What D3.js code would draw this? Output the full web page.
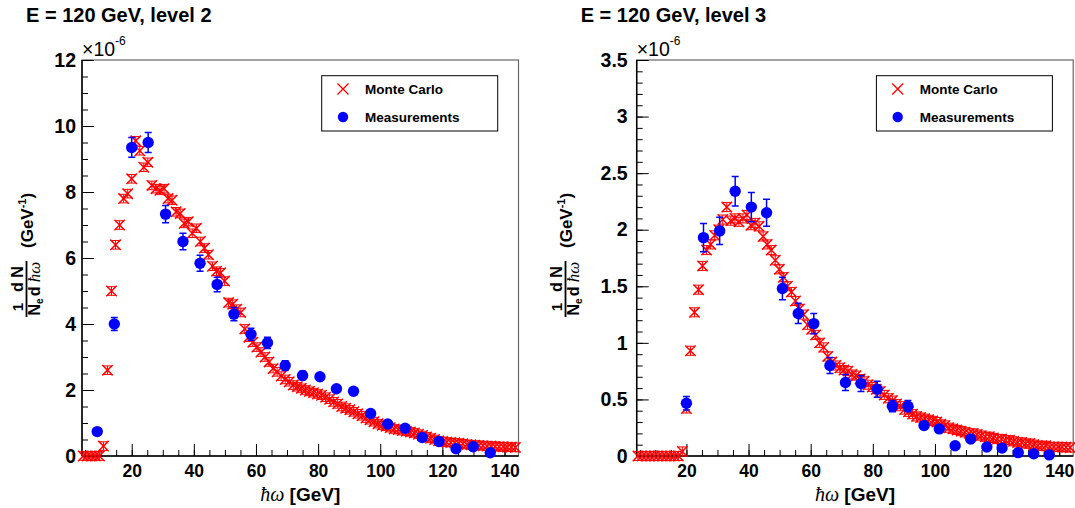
<!DOCTYPE html>
<html>
<head>
<meta charset="utf-8">
<script src="https://cdn.jsdelivr.net/npm/d3@7"></script>
<style>
body { margin: 0; background: #fff; }
text { font-family: "Liberation Sans", Arial, sans-serif; }
</style>
</head>
<body>
<div class="container"></div>
<script>
const W = 1075;
const H = 508;

// panel titles and legend
const titles = ['E = 120 GeV, level 2', 'E = 120 GeV, level 3'];
const legendLabels = ['Monte Carlo', 'Measurements'];

// axis ticks
const xTicks = [20, 40, 60, 80, 100, 120, 140];
const yTicks2 = [0, 2, 4, 6, 8, 10, 12];
const yTicks3 = [0, 0.5, 1, 1.5, 2, 2.5, 3, 3.5];

// Monte Carlo bin centres (GeV), shared by both levels
const mcX = [4.4, 5.7, 7.0, 8.3, 9.6, 10.9, 12.2, 13.5, 14.8, 16.1,
    17.4, 18.7, 20.0, 21.3, 22.6, 23.9, 25.2, 26.5, 27.8, 29.1,
    30.4, 31.7, 33.0, 34.3, 35.6, 36.9, 38.2, 39.5, 40.8, 42.1,
    43.4, 44.7, 46.0, 47.3, 48.6, 49.9, 51.2, 52.5, 53.8, 55.1,
    56.4, 57.7, 59.0, 60.3, 61.6, 62.9, 64.2, 65.5, 66.8, 68.1,
    69.4, 70.7, 72.0, 73.3, 74.6, 75.9, 77.2, 78.5, 79.8, 81.1,
    82.4, 83.7, 85.0, 86.3, 87.6, 88.9, 90.2, 91.5, 92.8, 94.1,
    95.4, 96.7, 98.0, 99.3, 100.6, 101.9, 103.2, 104.5, 105.8, 107.1,
    108.4, 109.7, 111.0, 112.3, 113.6, 114.9, 116.2, 117.5, 118.8, 120.1,
    121.4, 122.7, 124.0, 125.3, 126.6, 127.9, 129.2, 130.5, 131.8, 133.1,
    134.4, 135.7, 137.0, 138.3, 139.6, 140.9, 142.2, 143.5];

// Monte Carlo, level 2 (x1e-6 per GeV)
const mcLevel2 = [0, 0, 0, 0, 0, 0.3, 2.6, 5.0, 6.4, 7.0,
    7.8, 7.95, 8.4, 9.55, 9.25, 8.75, 8.9, 8.2, 8.1, 8.05,
    8.1, 7.8, 7.75, 7.4, 7.35, 7.05, 7.1, 6.75, 6.9, 6.5,
    6.3, 6.1, 5.75, 5.6, 5.55, 5.3, 4.65, 4.6, 4.45, 4.35,
    3.85, 3.6, 3.45, 3.3, 3.15, 3.0, 2.85, 2.65, 2.55, 2.42,
    2.32, 2.25, 2.15, 2.1, 2.05, 2.0, 1.96, 1.92, 1.88, 1.84,
    1.78, 1.72, 1.64, 1.58, 1.5, 1.45, 1.4, 1.34, 1.28, 1.22,
    1.15, 1.1, 1.04, 0.98, 0.93, 0.9, 0.86, 0.82, 0.8, 0.77,
    0.75, 0.73, 0.7, 0.66, 0.62, 0.58, 0.54, 0.5, 0.46, 0.44,
    0.42, 0.41, 0.4, 0.39, 0.37, 0.35, 0.34, 0.33, 0.32, 0.31,
    0.3, 0.3, 0.29, 0.28, 0.28, 0.27, 0.27, 0.26];

// Monte Carlo, level 3
const mcLevel3 = [0, 0, 0, 0, 0, 0, 0, 0, 0, 0,
    0, 0.04, 0.42, 0.93, 1.27, 1.47, 1.68, 1.82, 1.87, 1.95,
    2.0, 2.09, 2.2, 2.08, 2.1, 2.07, 2.1, 2.13, 2.04, 2.06,
    2.03, 1.94, 1.87, 1.82, 1.73, 1.65, 1.58, 1.5, 1.45, 1.37,
    1.3, 1.25, 1.16, 1.12, 1.07, 1.0, 0.96, 0.88, 0.83, 0.8,
    0.78, 0.76, 0.75, 0.72, 0.71, 0.68, 0.66, 0.63, 0.61, 0.59,
    0.57, 0.54, 0.51, 0.49, 0.46, 0.44, 0.41, 0.39, 0.37, 0.35,
    0.34, 0.33, 0.32, 0.31, 0.3, 0.28, 0.27, 0.25, 0.24, 0.23,
    0.22, 0.21, 0.2, 0.2, 0.19, 0.18, 0.17, 0.17, 0.16, 0.15,
    0.15, 0.14, 0.14, 0.13, 0.12, 0.12, 0.11, 0.11, 0.1, 0.09,
    0.09, 0.09, 0.08, 0.08, 0.08, 0.08, 0.077, 0.075];

// small MC statistical errors
const mcErr2 = 0.13;
const mcErr3 = 0.04;

// measurements, level 2
const measX2 = [8.9, 14.4, 20.0, 25.3, 30.9, 36.5, 42.0, 47.5, 52.9, 58.4, 63.7, 69.4,
    75.0, 80.6, 85.9, 91.4, 96.9, 102.4, 108.0, 113.5, 118.9, 124.4, 129.9, 135.4];
const meas2 = [0.74, 4.0, 9.35, 9.5, 7.33, 6.5, 5.84, 5.2, 4.3, 3.69, 3.43, 2.74,
    2.44, 2.40, 2.04, 1.96, 1.29, 0.97, 0.84, 0.56, 0.44, 0.22, 0.28, 0.10];
const measErr2 = [0.05, 0.2, 0.3, 0.3, 0.26, 0.25, 0.24, 0.22, 0.2, 0.18, 0.17, 0.15,
    0.13, 0.1, 0.08, 0.07, 0.06, 0.05, 0.05, 0.04, 0.04, 0.03, 0.03, 0.03];

// measurements, level 3
const measX3 = [20.0, 25.5, 30.7, 35.7, 40.9, 45.8, 50.9, 56.0, 61.0, 66.2, 71.2, 76.2,
    81.4, 86.3, 91.3, 96.5, 101.4, 106.5, 111.5, 116.7, 121.6, 126.8, 131.8, 136.8];
const meas3 = [0.466, 1.93, 1.99, 2.34, 2.20, 2.15, 1.48, 1.26, 1.17, 0.80, 0.65, 0.64,
    0.59, 0.44, 0.44, 0.27, 0.24, 0.09, 0.15, 0.08, 0.07, 0.03, 0.02, 0.01];
const measErr3 = [0.06, 0.125, 0.12, 0.13, 0.13, 0.12, 0.1, 0.09, 0.09, 0.07, 0.07, 0.07,
    0.07, 0.05, 0.05, 0.03, 0.03, 0.02, 0.02, 0.02, 0.02, 0.02, 0.02, 0.02];

const xDomain = [4, 144.5];
const plotW = 436.5;
const plotTop = 60;
const plotBottom = 456;

const panels = [
    {title: titles[0], left: 82, yMax: 12, yTicks: yTicks2, yMinorStep: 0.5,
        mc: mcLevel2, mcErr: mcErr2, mx: measX2, my: meas2, me: measErr2, labelPad: 6, yTitleX: 25},
    {title: titles[1], left: 636.7, yMax: 3.5, yTicks: yTicks3, yMinorStep: 0.1,
        mc: mcLevel3, mcErr: mcErr3, mx: measX3, my: meas3, me: measErr3, labelPad: 9, yTitleX: 564},
];

const svg = d3.select('.container')
    .append('svg')
    .attr('width', W)
    .attr('height', H);

svg.append('rect').attr('width', W).attr('height', H).attr('fill', '#fff');

const crossPath = s => `M${-s},${-s}L${s},${s}M${-s},${s}L${s},${-s}`;

function styleAxis(g, size) {
    g.select('.domain').remove();
    g.selectAll('line').attr('stroke', '#000').attr('stroke-width', 1);
    g.selectAll('text')
        .attr('fill', '#000')
        .attr('font-family', '"Liberation Sans", Arial, sans-serif')
        .attr('font-weight', 'bold')
        .attr('font-size', size);
}

function drawYTitle(cx, cy) {
    const t = svg.append('g')
        .attr('transform', `translate(${cx},${cy}) rotate(-90)`)
        .attr('font-weight', 'bold')
        .attr('fill', '#000');

    // 1 / N_e
    t.append('text').attr('x', -49).attr('y', -2).attr('text-anchor', 'middle')
        .attr('font-size', 15).text('1');
    t.append('line').attr('x1', -59).attr('x2', -39).attr('y1', 1.5).attr('y2', 1.5)
        .attr('stroke', '#000').attr('stroke-width', 1.8);
    const den1 = t.append('text').attr('x', -49).attr('y', 14.5).attr('text-anchor', 'middle')
        .attr('font-size', 16);
    den1.append('tspan').text('N');
    den1.append('tspan').attr('font-size', 10).attr('dy', 3).text('e');

    // dN / dħω
    t.append('text').attr('x', -21).attr('y', -2).attr('text-anchor', 'middle')
        .attr('font-size', 16).text('d N');
    t.append('line').attr('x1', -39).attr('x2', -3).attr('y1', 1.5).attr('y2', 1.5)
        .attr('stroke', '#000').attr('stroke-width', 1.8);
    const den2 = t.append('text').attr('x', -21).attr('y', 14.5).attr('text-anchor', 'middle')
        .attr('font-size', 16);
    den2.append('tspan').text('d ');
    den2.append('tspan').attr('font-family', '"Liberation Serif", serif')
        .attr('font-weight', 'normal').attr('font-style', 'italic').attr('font-size', 17).text('ħω');

    // (GeV^-1)
    const unit = t.append('text').attr('x', 10).attr('y', 7.5).attr('font-size', 17);
    unit.append('tspan').text('(GeV');
    unit.append('tspan').attr('font-size', 11).attr('dy', -7).text('-1');
    unit.append('tspan').attr('dy', 7).text(')');
}

panels.forEach(p => {
    const x = d3.scaleLinear().domain(xDomain).range([p.left, p.left + plotW]);
    const y = d3.scaleLinear().domain([0, p.yMax]).range([plotBottom, plotTop]);

    // title
    svg.append('text')
        .attr('x', p.left - 56).attr('y', 22)
        .attr('font-size', 20).attr('font-weight', 'bold')
        .text(p.title);

    // frame
    svg.append('rect')
        .attr('x', p.left).attr('y', plotTop)
        .attr('width', plotW).attr('height', plotBottom - plotTop)
        .attr('fill', 'none').attr('stroke', '#666').attr('stroke-width', 1.2);

    // x axis: minor + major ticks pointing inward
    svg.append('g')
        .attr('transform', `translate(0,${plotBottom})`)
        .call(d3.axisBottom(x).tickValues(d3.range(5, 145, 5)).tickSizeInner(-6).tickSizeOuter(0).tickFormat(''))
        .call(g => styleAxis(g, 17.5));
    svg.append('g')
        .attr('transform', `translate(0,${plotBottom})`)
        .call(d3.axisBottom(x).tickValues(xTicks).tickSizeInner(-12).tickSizeOuter(0).tickPadding(9))
        .call(g => styleAxis(g, 17.5));

    // y axis
    svg.append('g')
        .attr('transform', `translate(${p.left},0)`)
        .call(d3.axisLeft(y).tickValues(d3.range(0, p.yMax + 1e-9, p.yMinorStep)).tickSizeInner(-6).tickSizeOuter(0).tickFormat(''))
        .call(g => styleAxis(g, 19.5));
    svg.append('g')
        .attr('transform', `translate(${p.left},0)`)
        .call(d3.axisLeft(y).tickValues(p.yTicks).tickSizeInner(-12).tickSizeOuter(0).tickPadding(p.labelPad).tickFormat(d => String(d)))
        .call(g => styleAxis(g, 19.5));

    // axis lines
    svg.append('line')
        .attr('x1', p.left).attr('x2', p.left).attr('y1', plotTop).attr('y2', plotBottom)
        .attr('stroke', '#000').attr('stroke-width', 1.5);
    svg.append('line')
        .attr('x1', p.left).attr('x2', p.left + plotW).attr('y1', plotBottom).attr('y2', plotBottom)
        .attr('stroke', '#000').attr('stroke-width', 1.5);

    // x10^-6 exponent
    const ex = svg.append('text').attr('x', p.left).attr('y', 56).attr('font-size', 19.5);
    ex.append('tspan').text('×10');
    ex.append('tspan').attr('font-size', 12).attr('dy', -11).text('-6');

    // x axis title
    const xt = svg.append('text')
        .attr('x', p.left + plotW / 2).attr('y', 501)
        .attr('text-anchor', 'middle').attr('font-size', 19).attr('font-weight', 'bold');
    xt.append('tspan').attr('font-family', '"Liberation Serif", serif')
        .attr('font-weight', 'normal').attr('font-style', 'italic').attr('font-size', 20).text('ħω');
    xt.append('tspan').text(' [GeV]');

    drawYTitle(p.yTitleX, 258);

    // Monte Carlo markers
    const mc = svg.append('g').attr('stroke', '#ff0000').attr('fill', 'none').attr('stroke-width', 1.5);
    mcX.forEach((gx, i) => {
        const cx = x(gx), v = p.mc[i];
        const y0 = y(v - p.mcErr), y1 = y(v + p.mcErr);
        mc.append('path')
            .attr('d', `M${cx},${y0}L${cx},${y1}M${cx - 4},${y0}L${cx + 4},${y0}M${cx - 4},${y1}L${cx + 4},${y1}`)
            .attr('stroke-width', 1);
        mc.append('path')
            .attr('transform', `translate(${cx},${y(v)})`)
            .attr('d', crossPath(5.2));
    });

    // measurements with error bars
    const ms = svg.append('g');
    p.mx.forEach((gx, i) => {
        const cx = x(gx), v = p.my[i], e = p.me[i];
        const y0 = y(v - e), y1 = y(v + e);
        ms.append('path')
            .attr('d', `M${cx},${y0}L${cx},${y1}M${cx - 3.5},${y0}L${cx + 3.5},${y0}M${cx - 3.5},${y1}L${cx + 3.5},${y1}`)
            .attr('stroke', '#0000ff').attr('stroke-width', 1.5).attr('fill', 'none');
        ms.append('circle')
            .attr('cx', cx).attr('cy', y(v)).attr('r', 5.7)
            .attr('fill', '#0000ff');
    });

    // legend
    const lx = p.left + 239.7, ly = 75.7;
    svg.append('rect')
        .attr('x', lx).attr('y', ly).attr('width', 176).attr('height', 55.3)
        .attr('fill', '#fff').attr('stroke', '#000').attr('stroke-width', 1);
    svg.append('path')
        .attr('transform', `translate(${p.left + 261},89)`)
        .attr('d', crossPath(5.5))
        .attr('stroke', '#ff0000').attr('stroke-width', 1.3).attr('fill', 'none');
    svg.append('circle')
        .attr('cx', p.left + 261).attr('cy', 117).attr('r', 5.2)
        .attr('fill', '#0000ff');
    legendLabels.forEach((lab, i) => {
        svg.append('text')
            .attr('x', p.left + 283).attr('y', 94 + i * 28.3)
            .attr('font-size', 13.5).attr('font-weight', 'bold')
            .text(lab);
    });
});
</script>
</body>
</html>
